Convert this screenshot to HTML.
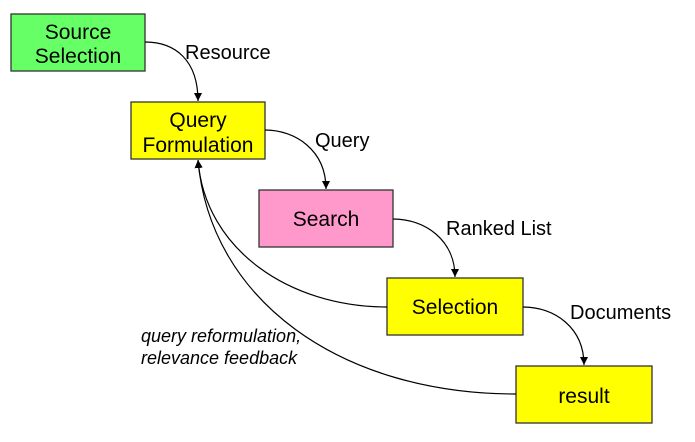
<!DOCTYPE html>
<html><head><style>
body{margin:0;background:#fff;width:695px;height:442px;overflow:hidden;font-family:"Liberation Sans",Arial,sans-serif}
svg{position:absolute;left:0;top:0}
</style></head><body>
<svg width="695" height="442" xmlns="http://www.w3.org/2000/svg" font-family="Liberation Sans, Arial, sans-serif">
<defs><marker id="a" markerWidth="10" markerHeight="10" refX="8" refY="4" orient="auto" markerUnits="userSpaceOnUse"><path d="M0,0 L8,4 L0,8 z" fill="#000"/></marker></defs>
<g stroke="#333" stroke-width="1.3">
<rect x="11" y="14" width="134" height="57" fill="#66ff66"/>
<rect x="131" y="102" width="134" height="57" fill="#ffff00"/>
<rect x="259" y="190" width="134" height="57" fill="#ff99cc"/>
<rect x="387" y="278" width="136" height="57" fill="#ffff00"/>
<rect x="516" y="366" width="136" height="57" fill="#ffff00"/>
</g>
<g fill="none" stroke="#000" stroke-width="1.2" marker-end="url(#a)">
<path d="M145,42 C175,42 198,60 198,101"/>
<path d="M265,130 C295,130 326,150 326,189"/>
<path d="M393,219 C425,219 455,240 455,277"/>
<path d="M523,307 C555,307 584,328 584,365"/>
<path d="M387,307 C290,307 205,250 198,160"/>
<path d="M516,394 C340,394 210,300 198,160"/>
</g>
<g font-size="21" fill="#000" text-anchor="middle">
<text x="78" y="39">Source</text><text x="78" y="63">Selection</text>
<text x="198" y="127">Query</text><text x="198" y="152">Formulation</text>
<text x="326" y="226">Search</text>
<text x="455" y="314">Selection</text>
<text x="584" y="403">result</text>
</g>
<g font-size="20" fill="#000">
<text x="185" y="59">Resource</text>
<text x="315" y="147">Query</text>
<text x="446" y="235">Ranked List</text>
<text x="570" y="319">Documents</text>
</g>
<g font-size="18" font-style="italic" fill="#000">
<text x="141" y="342">query reformulation,</text>
<text x="141" y="364">relevance feedback</text>
</g>
</svg>
</body></html>
